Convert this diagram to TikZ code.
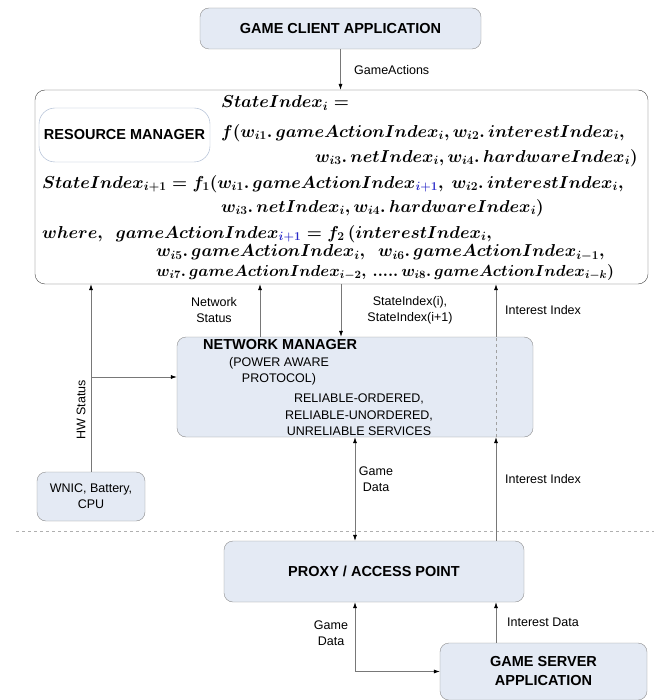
\RequirePackage{fix-cm}
\documentclass[tikz,border=0pt]{standalone}
\usepackage[no-math]{fontspec}
\setmainfont{Liberation Sans}
\usepackage{xcolor}
\usetikzlibrary{arrows.meta, positioning, calc}
\definecolor{boxfill}{RGB}{228, 234, 244}
\definecolor{boxline}{RGB}{140, 140, 140}
\definecolor{dark}{RGB}{70, 70, 70}
\definecolor{rmline}{RGB}{160, 178, 204}
\definecolor{linegray}{RGB}{120, 120, 120}
\definecolor{sepgray}{RGB}{175, 175, 175}
\definecolor{idx}{RGB}{40, 40, 200}
\tikzset{
    box/.style={rectangle, rounded corners=9pt, draw=boxline, fill=boxfill, align=center, font=\fontsize{14.5}{19}\selectfont\bfseries, inner sep=0pt},
    plainbox/.style={box, font=\fontsize{12.5}{16}\selectfont},
    lbl/.style={align=center, inner sep=0pt, font=\fontsize{12.5}{16}\selectfont},
    eqn/.style={anchor=west, inner sep=0pt, font=\fontsize{17.28}{19}\selectfont\boldmath},
    arr/.style={-{Latex[length=6pt, width=4pt, color=black]}, line width=0.6pt, linegray},
    biarr/.style={{Latex[length=6pt, width=4pt, color=black]}-{Latex[length=6pt, width=4pt, color=black]}, line width=0.6pt, linegray},
    sepline/.style={dashed, line width=0.6pt, sepgray}
}
\begin{document}
\begin{tikzpicture}[x=1pt, y=-1pt]
    \useasboundingbox (0,0) rectangle (654,700);
    % boxes
    \node[box, minimum width=281pt, minimum height=41pt] (client) at (340.5,28.5) {GAME CLIENT APPLICATION};
    \node[box, draw=dark, fill=white, rounded corners=10pt, minimum width=613pt, minimum height=194pt] (rm) at (341.5,187) {};
    \node[box, draw=rmline, fill=white, rounded corners=16pt, minimum width=171pt, minimum height=54pt] (rmtitle) at (124.5,135) {RESOURCE MANAGER};
    \node[box, minimum width=356pt, minimum height=100pt] (nm) at (355,387) {};
    \node[box, fill=none, draw=none, anchor=west] (nmtitle) at (203,345) {NETWORK MANAGER};
    \node[lbl] (nmsub) at (279,371) {(POWER AWARE\\PROTOCOL)};
    \node[lbl, font=\fontsize{12.5}{16.5}\selectfont] (nmserv) at (359,415) {RELIABLE-ORDERED,\\RELIABLE-UNORDERED,\\UNRELIABLE SERVICES};
    \node[plainbox, minimum width=108pt, minimum height=49pt] (wnic) at (91,496.5) {WNIC, Battery,\\CPU};
    \node[box, minimum width=300pt, minimum height=61pt] (proxy) at (374,571.5) {PROXY / ACCESS POINT};
    \node[box, minimum width=207pt, minimum height=57pt] (server) at (543.5,671.5) {GAME SERVER\\APPLICATION};

    % state index equations
    \node[eqn] (eq1) at (221,103) {$StateIndex_i =$};
    \node[eqn] (eq2) at (221,133) {$f(w_{i1}.\,gameActionIndex_i, w_{i2}.\,interestIndex_i,$};
    \node[eqn] (eq3) at (315,158) {$w_{i3}.\,netIndex_i, w_{i4}.\,hardwareIndex_i)$};
    \node[eqn] (eq4) at (42,184) {$StateIndex_{i+1} = f_1(w_{i1}.\,gameActionIndex_{\color{idx}i+1},\ w_{i2}.\,interestIndex_i,$};
    \node[eqn] (eq5) at (221,208) {$w_{i3}.\,netIndex_i, w_{i4}.\,hardwareIndex_i)$};
    \node[eqn] (eq6) at (42,234) {$where,\ \ gameActionIndex_{\color{idx}i+1} = f_2\,(interestIndex_i,$};
    \node[eqn] (eq7) at (156,253) {$w_{i5}.\,gameActionIndex_i,\ \ w_{i6}.\,gameActionIndex_{i-1},$};
    \node[eqn, font=\fontsize{16}{19}\selectfont\boldmath] (eq8) at (156,272) {$w_{i7}.\,gameActionIndex_{i-2},\,.....\,w_{i8}.\,gameActionIndex_{i-k})$};

    % connector columns
    \coordinate (xns) at (260,0);
    \coordinate (xsi) at (341,0);
    \coordinate (xgd) at (355,0);
    \coordinate (xii) at (496,0);
    \coordinate (hwj) at (91,377);
    \coordinate (sepl) at (16,531);
    \coordinate (sepr) at (654,531);

    \draw[sepline] (sepl) -- (sepr);
    \draw[arr] (client.south) -- (client.south |- rm.north);
    \draw[arr] (wnic.north) -- (wnic.north |- rm.south);
    \draw[arr] (hwj) -- (hwj -| nm.west);
    \draw[arr] (nm.north -| xns) -- (rm.south -| xns);
    \draw[arr] (rm.south -| xsi) -- (nm.north -| xsi);
    \draw[arr] (proxy.north -| xii) -- (nm.south -| xii);
    \draw[dashed, line width=0.6pt, linegray!70] (nm.south -| xii) -- (nm.north -| xii);
    \draw[arr] (nm.north -| xii) -- (rm.south -| xii);
    \draw[biarr] (nm.south -| xgd) -- (proxy.north -| xgd);
    \draw[biarr] (proxy.south -| xgd) |- (server.west);
    \draw[arr] (server.north -| xii) -- (proxy.south -| xii);

    % labels
    \node[lbl, anchor=west] (lblga) at (354,70) {GameActions};
    \node[lbl] (lblns) at (214,310) {Network\\Status};
    \node[lbl] (lblsi) at (410,310) {StateIndex(i),\\StateIndex(i+1)};
    \node[lbl, anchor=west] (lblii1) at (505,310) {Interest Index};
    \node[lbl, rotate=90] (lblhw) at (81,410) {HW Status};
    \node[lbl] (lblgd1) at (376,479) {Game\\Data};
    \node[lbl, anchor=west] (lblii2) at (505,479) {Interest Index};
    \node[lbl] (lblgd2) at (331,633) {Game\\Data};
    \node[lbl, anchor=west] (lblid) at (507,622) {Interest Data};
\end{tikzpicture}
\end{document}
